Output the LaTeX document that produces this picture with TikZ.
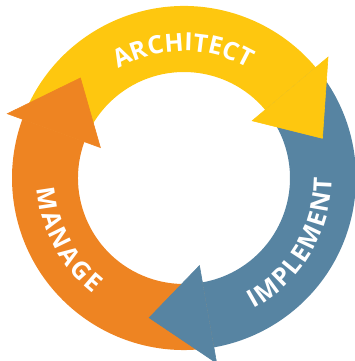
\documentclass[tikz,border=0pt]{standalone}
\usepackage{fontspec}
\setmainfont{Open Sans}
\usetikzlibrary{decorations.text}

\definecolor{archyellow}{RGB}{254,199,15}
\definecolor{implblue}{RGB}{87,132,162}
\definecolor{mangorange}{RGB}{238,132,34}

\newcommand{\ringfont}{\bfseries\fontsize{25}{25}\selectfont\color{white}}

\begin{document}
\begin{tikzpicture}

% definitions
\tikzstyle{architect} = [fill=archyellow, draw=archyellow, line width=0.6pt]

\tikzstyle{implement} = [fill=implblue, draw=implblue, line width=0.6pt]

\tikzstyle{manage} = [fill=mangorange, draw=mangorange, line width=0.6pt]

\tikzstyle{ringtext} = [decorate, decoration={text along path, text align={fit to path}}]

\useasboundingbox (-184pt,-183pt) rectangle (171pt,178pt);

% the ring
\fill [architect, draw=none] (160:172pt) arc[start angle=160, end angle=40, radius=172pt] -- (40:106pt) arc[start angle=40, end angle=160, radius=106pt] -- cycle;

\fill [implement, draw=none] (40:172pt) arc[start angle=40, end angle=-80, radius=172pt] -- (-80:106pt) arc[start angle=-80, end angle=40, radius=106pt] -- cycle;

\fill [manage, draw=none] (-80:172pt) arc[start angle=-80, end angle=-200, radius=172pt] -- (-200:106pt) arc[start angle=-200, end angle=-80, radius=106pt] -- cycle;

% the heads
\filldraw [architect] (40:188pt) -- (16:144pt) -- (40:89pt) -- cycle;
\filldraw [implement] (-80:188pt) -- (-104:144pt) -- (-80:89pt) -- cycle;
\filldraw [manage] (160:188pt) -- (136:144pt) -- (160:89pt) -- cycle;

% the labels
\path [ringtext, decoration={text={|\ringfont|ARCHITECT}}] (121:127pt) arc[start angle=121, end angle=60, radius=127pt];

\path [ringtext, decoration={text={|\ringfont|IMPLEMENT}}] (-62:148pt) arc[start angle=-62, end angle=0, radius=148pt];

\path [ringtext, decoration={text={|\ringfont|MANAGE}}] (184:147pt) arc[start angle=184, end angle=232, radius=147pt];

\end{tikzpicture}
\end{document}
